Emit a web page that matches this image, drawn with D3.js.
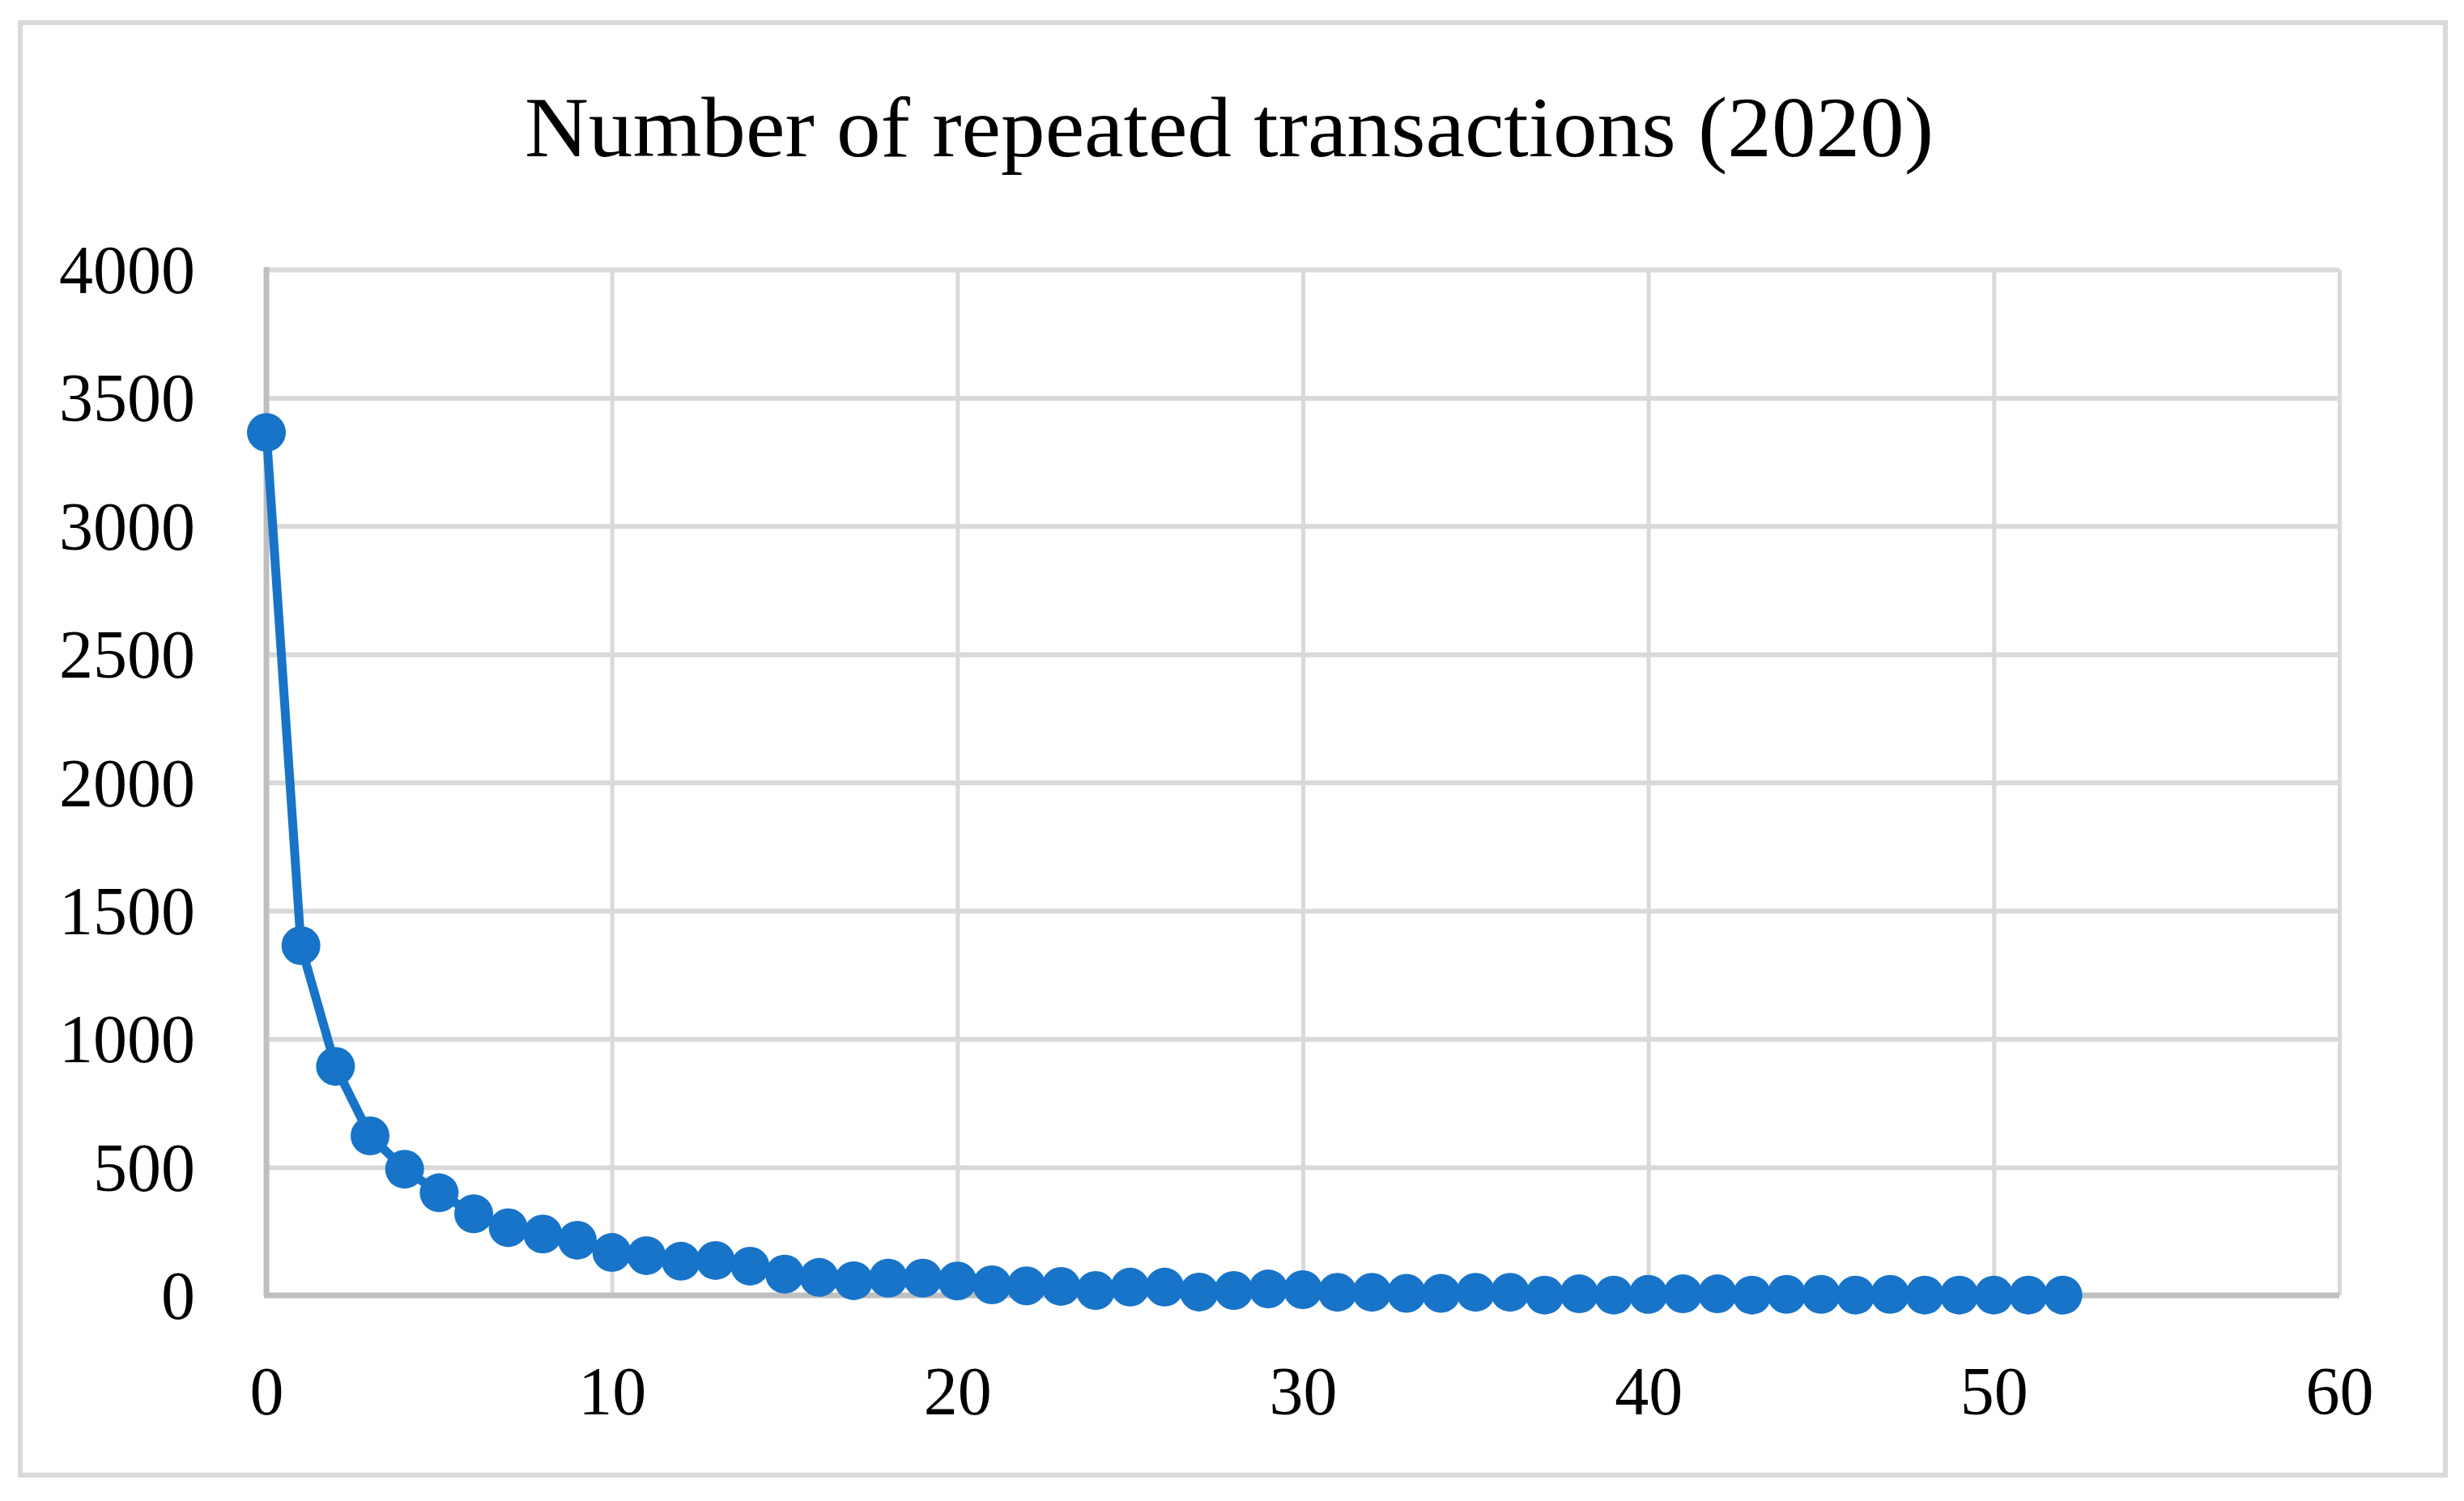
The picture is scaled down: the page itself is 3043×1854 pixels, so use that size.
<!DOCTYPE html>
<html>
<head>
<meta charset="utf-8">
<script src="https://cdn.jsdelivr.net/npm/d3@7"></script>
<style>
html,body{margin:0;padding:0;background:#fff;}
svg{display:block;}
</style>
</head>
<body>
<svg id="chart" width="3043" height="1854"></svg>
<script>
const title = "Number of repeated transactions (2020)";
const xValues = d3.range(0, 53);
const yValues = [3365, 1364, 893, 622, 492, 400, 318, 264, 239, 215,
  167, 155, 133, 136, 114, 83, 70, 57, 67, 67,
  56, 41, 37, 35, 19, 32, 32, 13, 19, 25,
  22, 12, 12, 8, 8, 12, 12, 1, 6, 1,
  4, 6, 6, 1, 4, 4, 1, 4, 1, 1,
  1, 1, 1];
const xTicks = [0, 10, 20, 30, 40, 50, 60];
const yTicks = [0, 500, 1000, 1500, 2000, 2500, 3000, 3500, 4000];

(function () {
const W = 3043, H = 1854;
const pLeft = 329, pRight = 2889, pTop = 333, pBottom = 1600;
const font = "'Palatino Linotype','Book Antiqua',Palatino,'Liberation Serif',serif";
const blue = "#1874c8";

const svg = d3.select("#chart");
svg.append("rect").attr("width", W).attr("height", H).attr("fill", "#fff");
// outer border
svg.append("rect").attr("x", 25).attr("y", 28).attr("width", 2995).attr("height", 1794)
  .attr("fill", "none").attr("stroke", "#d9d9d9").attr("stroke-width", 6);

const x = d3.scaleLinear().domain([0, 60]).range([pLeft, pRight]);
const y = d3.scaleLinear().domain([0, 4000]).range([pBottom, pTop]);

// gridlines
const gx = svg.append("g").attr("transform", `translate(0,${pBottom})`)
  .call(d3.axisBottom(x).tickValues(xTicks.filter(d => d > 0)).tickSize(-(pBottom - pTop)).tickFormat(""));
gx.select(".domain").remove();
gx.selectAll("line").attr("stroke", "#d9d9d9").attr("stroke-width", 5);

const gy = svg.append("g").attr("transform", `translate(${pLeft},0)`)
  .call(d3.axisLeft(y).tickValues(yTicks.filter(d => d > 0)).tickSize(-(pRight - pLeft)).tickFormat(""));
gy.select(".domain").remove();
gy.selectAll("line").attr("stroke", "#d9d9d9").attr("stroke-width", 6);

// axis lines
svg.append("line").attr("x1", x(0)).attr("x2", x(0)).attr("y1", y(4000) - 3).attr("y2", y(0))
  .attr("stroke", "#bfbfbf").attr("stroke-width", 7);
svg.append("line").attr("x1", x(0) - 3).attr("x2", x(60)).attr("y1", y(0)).attr("y2", y(0))
  .attr("stroke", "#bfbfbf").attr("stroke-width", 7);

// tick labels
const xl = svg.append("g").attr("transform", `translate(0,${pBottom + 147})`)
  .call(d3.axisBottom(x).tickValues(xTicks).tickSize(0).tickPadding(0).tickFormat(d3.format("d")));
xl.select(".domain").remove();
xl.selectAll("text").attr("font-family", font).attr("font-size", 84).attr("fill", "#000")
  .attr("dy", 0).attr("y", 0);

const yl = svg.append("g").attr("transform", `translate(${pLeft - 88},0)`)
  .call(d3.axisLeft(y).tickValues(yTicks).tickSize(0).tickPadding(0).tickFormat(d3.format("d")));
yl.select(".domain").remove();
yl.selectAll("text").attr("font-family", font).attr("font-size", 84).attr("fill", "#000")
  .attr("dy", "0.34em");

// title
svg.append("text").attr("x", 1518).attr("y", 193).attr("text-anchor", "middle")
  .attr("font-family", font).attr("font-size", 106).attr("fill", "#000")
  .attr("textLength", 1740).attr("lengthAdjust", "spacingAndGlyphs")
  .text(title);

// series
const data = xValues.map((d, i) => ({x: d, y: yValues[i]}));
svg.append("path").datum(data)
  .attr("fill", "none").attr("stroke", blue).attr("stroke-width", 11).attr("stroke-linejoin", "round")
  .attr("d", d3.line().x(d => x(d.x)).y(d => y(d.y)));
svg.append("g").selectAll("circle").data(data).join("circle")
  .attr("cx", d => x(d.x)).attr("cy", d => y(d.y)).attr("r", 24).attr("fill", blue);
})();
</script>
</body>
</html>
